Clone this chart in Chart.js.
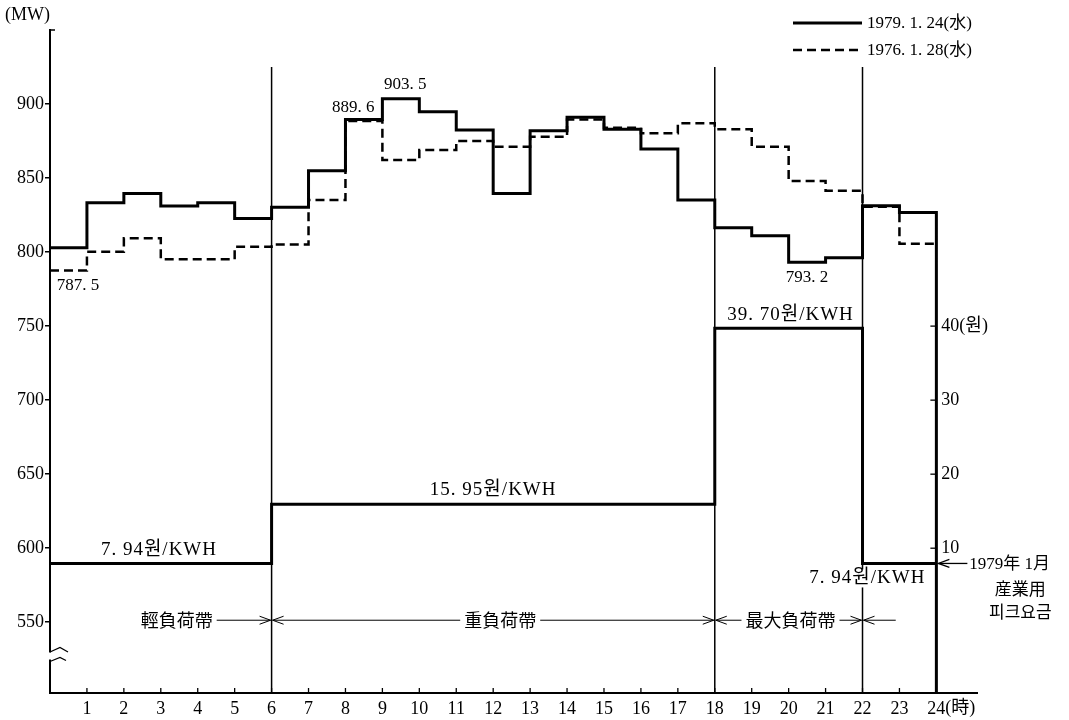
<!DOCTYPE html>
<html>
<head>
<meta charset="utf-8">
<script src="https://cdn.jsdelivr.net/npm/chart.js@4.4.1/dist/chart.umd.min.js"></script>
<style>
  html, body { margin: 0; padding: 0; background: #fff; }
  canvas { display: block; }
</style>
</head>
<body>
<canvas id="c" width="1069" height="720" style="width:1069px;height:720px"></canvas>
<script>
// Hourly load (MW); each value holds from its starting hour to the next hour.
const hourStarts = [0, 1, 2, 3, 4, 5, 6, 7, 8, 9, 10, 11, 12, 13, 14, 15, 16, 17, 18, 19, 20, 21, 22, 23];
const dayEnd = 24;
const load1979 = [803.0, 833.3, 839.6, 831.1, 833.3, 822.7, 830.2, 855.0, 889.6, 903.5, 894.8, 882.4,
                  839.6, 882.0, 891.0, 882.9, 869.6, 835.1, 816.4, 811.0, 793.2, 796.2, 831.3, 826.8];
const load1976 = [787.5, 800.2, 809.3, 795.1, 795.1, 803.6, 805.2, 835.1, 888.6, 862.2, 868.9, 875.0,
                  871.2, 877.9, 889.6, 884.0, 880.2, 887.0, 882.9, 871.2, 848.0, 841.4, 830.6, 805.6];
const seriesNames = ['1979. 1. 24(水)', '1976. 1. 28(水)'];

// Industrial peak tariff (won/KWH), January 1979
const tariffStarts = [0, 6, 18, 22];
const tariffs = [7.94, 15.95, 39.70, 7.94];

// Load bands
const zoneBounds = [0, 6, 18, 22, 24];
const zoneNames = ['輕負荷帶', '重負荷帶', '最大負荷帶', ''];

// Tick labels
const yTickValues = [550, 600, 650, 700, 750, 800, 850, 900];
const xTickHours = [1, 2, 3, 4, 5, 6, 7, 8, 9, 10, 11, 12, 13, 14, 15, 16, 17, 18, 19, 20, 21, 22, 23, 24];
const xTickLabels = ['1', '2', '3', '4', '5', '6', '7', '8', '9', '10', '11', '12',
                     '13', '14', '15', '16', '17', '18', '19', '20', '21', '22', '23', '24'];
const rateTicks = [10, 20, 30, 40];
const rateTickLabels = ['10', '20', '30', '40(원)'];
const tariffNote = ['1979年 1月', '産業用', '피크요금'];

const SERIF = "'Liberation Serif', 'Noto Sans CJK KR', serif";
const CJK = "'Noto Sans CJK KR', 'Noto Sans CJK JP', sans-serif";
const Y_MIN = 502.2, Y_MAX = 950;

function stepPoints(starts, values, end) {
  const pts = starts.map((h, i) => ({ x: h, y: values[i] }));
  pts.push({ x: end, y: values[values.length - 1] });
  return pts;
}

const fmt1 = v => v.toFixed(1).replace('.', '. ');
const fmtRate = v => v.toFixed(2).replace('.', '. ') + '원/KWH';

function arrowHead(ctx, tipX, y, dir) {
  ctx.beginPath();
  ctx.moveTo(tipX - 11 * dir, y - 4);
  ctx.lineTo(tipX, y);
  ctx.lineTo(tipX - 11 * dir, y + 4);
  ctx.stroke();
}

function hLine(ctx, x1, x2, y) {
  ctx.beginPath();
  ctx.moveTo(x1, y);
  ctx.lineTo(x2, y);
  ctx.stroke();
}

const annotations = {
  id: 'loadAnnotations',
  beforeDatasetsDraw(chart) {
    const { ctx } = chart;
    const xs = chart.scales.x, ys = chart.scales.y;
    // band boundaries
    ctx.save();
    ctx.strokeStyle = '#000';
    ctx.lineWidth = 1.5;
    zoneBounds.slice(1, -1).forEach(h => {
      const px = xs.getPixelForValue(h);
      ctx.beginPath();
      ctx.moveTo(px, ys.getPixelForValue(925));
      ctx.lineTo(px, ys.bottom);
      ctx.stroke();
    });
    ctx.restore();
  },
  afterDraw(chart) {
    const { ctx } = chart;
    const xs = chart.scales.x, ys = chart.scales.y, y1 = chart.scales.y1;
    const X = v => xs.getPixelForValue(v);
    ctx.save();
    ctx.fillStyle = '#000';
    ctx.strokeStyle = '#000';

    // unit label and axis top tick
    ctx.font = '18px ' + SERIF;
    ctx.textAlign = 'left';
    ctx.textBaseline = 'middle';
    ctx.fillText('(MW)', 5, 15);
    ctx.lineWidth = 1.5;
    hLine(ctx, xs.left, xs.left + 5, ys.top);

    // axis break
    ctx.fillStyle = '#fff';
    ctx.fillRect(xs.left - 3, 652.5, 6, 7);
    ctx.fillStyle = '#000';
    ctx.lineWidth = 1.3;
    ctx.beginPath();
    ctx.moveTo(xs.left, 652); ctx.lineTo(xs.left + 10, 647.5); ctx.lineTo(xs.left + 18, 652);
    ctx.moveTo(xs.left, 661.5); ctx.lineTo(xs.left + 10, 657.5); ctx.lineTo(xs.left + 16, 660.5);
    ctx.stroke();

    // upward hour ticks on x axis
    ctx.lineWidth = 1.3;
    xs.ticks.forEach(t => {
      const px = X(t.value);
      ctx.beginPath();
      ctx.moveTo(px, xs.top);
      ctx.lineTo(px, xs.top - 5);
      ctx.stroke();
    });
    // unit after the last hour label
    ctx.font = '18px ' + SERIF;
    const lastW = ctx.measureText(xTickLabels[xTickLabels.length - 1]).width;
    ctx.textAlign = 'left';
    ctx.textBaseline = 'top';
    ctx.fillText('(時)', X(dayEnd) + lastW / 2, xs.top + 6);

    // right-hand tariff axis
    const xr = X(dayEnd);
    ctx.lineWidth = 1.3;
    ctx.textBaseline = 'middle';
    rateTicks.forEach((v, i) => {
      const py = y1.getPixelForValue(v);
      hLine(ctx, xr - 6, xr, py);
      ctx.fillText(rateTickLabels[i], xr + 5, py);
    });

    // value labels on the load steps
    ctx.font = '17px ' + SERIF;
    ctx.textAlign = 'center';
    const valueLabels = [
      { ds: 0, idx: 8, at: 8.21, dy: -12 },
      { ds: 0, idx: 9, at: 9.62, dy: -14 },
      { ds: 0, idx: 20, at: 20.5, dy: 15 },
      { ds: 1, idx: 0, at: 0.76, dy: 15 }
    ];
    valueLabels.forEach(l => {
      const v = chart.data.datasets[l.ds].data[l.idx].y;
      ctx.fillText(fmt1(v), X(l.at), ys.getPixelForValue(v) + l.dy);
    });

    // tariff labels
    ctx.font = '19px ' + SERIF;
    ctx.letterSpacing = '1px';
    const rateLabels = [
      { idx: 0, at: 2.95, dy: -13, bg: false },
      { idx: 1, at: 12.0, dy: -14, bg: false },
      { idx: 2, at: 20.05, dy: -13, bg: false },
      { idx: 3, at: 22.13, dy: 15, bg: true }
    ];
    rateLabels.forEach(l => {
      const v = tariffs[l.idx];
      const txt = fmtRate(v);
      const px = X(l.at), py = y1.getPixelForValue(v) + l.dy;
      if (l.bg) {
        const w = ctx.measureText(txt).width;
        ctx.fillStyle = '#fff';
        ctx.fillRect(px - w / 2 - 2, py - 9, w + 4, 18);
        ctx.fillStyle = '#000';
      }
      ctx.fillText(txt, px, py);
    });
    ctx.letterSpacing = '0px';

    // load-band arrows
    const zy = ys.getPixelForValue(yTickValues[0]) - 2;
    const zoneText = [3.43, 12.19, 20.05, null];
    ctx.lineWidth = 1;
    ctx.font = '18px ' + CJK;
    ctx.textAlign = 'center';
    ctx.textBaseline = 'middle';
    zoneNames.forEach((name, i) => {
      const x0 = X(zoneBounds[i]) + 1, x1 = X(zoneBounds[i + 1]) - 1;
      if (zoneText[i] === null) {
        const xe = X(22.9);
        hLine(ctx, x0, xe, zy);
        arrowHead(ctx, x0, zy, -1);
        return;
      }
      const cx = X(zoneText[i]);
      const w = ctx.measureText(name).width;
      ctx.fillText(name, cx, zy);
      if (i > 0) {
        hLine(ctx, x0, cx - w / 2 - 4, zy);
        arrowHead(ctx, x0, zy, -1);
      }
      hLine(ctx, cx + w / 2 + 4, x1, zy);
      arrowHead(ctx, x1, zy, 1);
    });

    // tariff note on the right
    const ny = y1.getPixelForValue(tariffs[tariffs.length - 1]);
    ctx.lineWidth = 1.3;
    hLine(ctx, xr + 2, xr + 31, ny);
    arrowHead(ctx, xr + 2, ny, -1);
    ctx.font = '17px ' + SERIF;
    ctx.textAlign = 'left';
    ctx.fillText(tariffNote[0], xr + 33, ny + 1);
    ctx.font = '17px ' + CJK;
    ctx.textAlign = 'center';
    ctx.fillText(tariffNote[1], xr + 84, ny + 25);
    ctx.fillText(tariffNote[2], xr + 84, ny + 48);

    // legend
    const legend = chart.data.datasets.slice(0, 2);
    legend.forEach((ds, i) => {
      const ly = 23 + i * 27;
      ctx.lineWidth = ds.borderWidth;
      ctx.setLineDash(ds.borderDash || []);
      hLine(ctx, 793, 862, ly);
      ctx.setLineDash([]);
      ctx.font = '17px ' + SERIF;
      ctx.textAlign = 'left';
      ctx.fillText(ds.label, 867, ly + 1);
    });
    ctx.restore();
  }
};

const loadLine1979 = stepPoints(hourStarts, load1979, dayEnd);
loadLine1979.push({ x: dayEnd, y: Y_MIN });

new Chart(document.getElementById('c'), {
  type: 'line',
  data: {
    datasets: [
      {
        label: seriesNames[0],
        data: loadLine1979,
        borderColor: '#000',
        borderWidth: 3,
        stepped: true,
        pointRadius: 0,
        yAxisID: 'y'
      },
      {
        label: seriesNames[1],
        data: stepPoints(hourStarts, load1976, dayEnd),
        borderColor: '#000',
        borderWidth: 2.5,
        borderDash: [9, 5],
        stepped: true,
        pointRadius: 0,
        yAxisID: 'y'
      },
      {
        label: 'tariff',
        data: stepPoints(tariffStarts, tariffs, dayEnd),
        borderColor: '#000',
        borderWidth: 3,
        stepped: true,
        pointRadius: 0,
        yAxisID: 'y1'
      }
    ]
  },
  options: {
    responsive: false,
    animation: false,
    devicePixelRatio: 1,
    layout: { padding: { top: 30, right: 92, left: 0, bottom: 0 } },
    plugins: { legend: { display: false }, tooltip: { enabled: false } },
    scales: {
      x: {
        type: 'linear',
        min: 0,
        max: 25.1,
        afterBuildTicks: s => { s.ticks = xTickHours.map(v => ({ value: v })); },
        afterFit: s => { s.height = 27; },
        ticks: {
          callback: v => xTickLabels[xTickHours.indexOf(v)],
          font: { family: SERIF, size: 18 },
          color: '#000',
          padding: 5,
          maxRotation: 0,
          autoSkip: false
        },
        grid: { display: false, drawTicks: false },
        border: { display: true, color: '#000', width: 2 }
      },
      y: {
        type: 'linear',
        min: Y_MIN,
        max: Y_MAX,
        afterBuildTicks: s => { s.ticks = yTickValues.map(v => ({ value: v })); },
        afterFit: s => { s.width = 50; },
        ticks: { font: { family: SERIF, size: 18 }, color: '#000', padding: 1 },
        grid: { drawOnChartArea: false, tickLength: 5, color: '#000', lineWidth: 1.5 },
        border: { display: true, color: '#000', width: 2 }
      },
      y1: {
        type: 'linear',
        display: false,
        min: (Y_MIN - 550) / 5,
        max: (Y_MAX - 550) / 5
      }
    }
  },
  plugins: [annotations]
});
</script>
</body>
</html>
